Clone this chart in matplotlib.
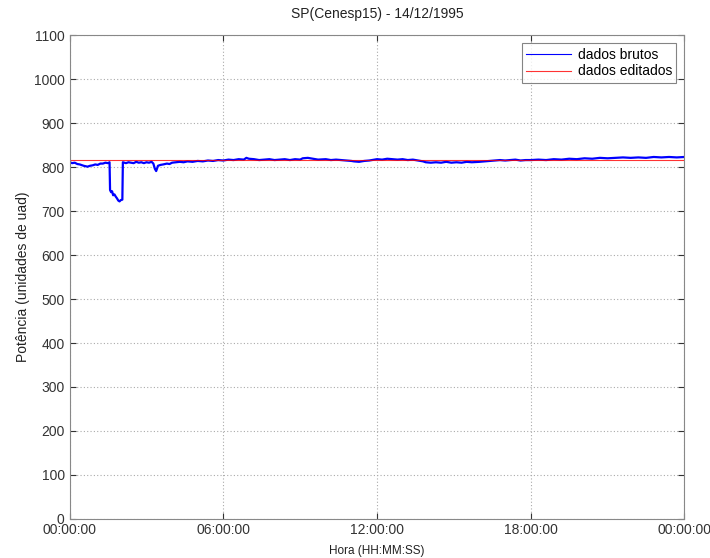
#!/usr/bin/env python

""" Potencia medida em SP(Cenesp15) ao longo do dia 14/12/1995. """

import matplotlib
matplotlib.use("Agg")
import matplotlib.pyplot as plt

# horas do dia e leituras brutas (unidades de uad)
raw_hours = [0.0, 0.1, 0.2, 0.3, 0.4, 0.55, 0.7, 0.8, 0.9, 1.0, 1.1, 1.2, 1.3, 1.4,
             1.5, 1.56, 1.58, 1.62, 1.66, 1.7, 1.75, 1.8, 1.85, 1.9, 1.95, 2.0, 2.06,
             2.08, 2.2, 2.3, 2.4, 2.5, 2.6, 2.7, 2.8, 2.9, 3.0, 3.1, 3.2, 3.27, 3.33,
             3.38, 3.45, 3.55, 3.65, 3.8, 3.9, 4.0, 4.15, 4.3, 4.45, 4.6, 4.8, 5.0,
             5.2, 5.4, 5.6, 5.8, 6.0, 6.2, 6.4, 6.6, 6.8, 6.9, 7.0, 7.2, 7.4, 7.6,
             7.8, 8.0, 8.2, 8.4, 8.6, 8.8, 9.0, 9.1, 9.3, 9.5, 9.7, 10.0, 10.2, 10.4,
             10.6, 10.8, 11.0, 11.1, 11.3, 11.5, 11.7, 12.0, 12.2, 12.4, 12.6, 12.8,
             13.0, 13.2, 13.4, 13.6, 13.8, 13.9, 14.1, 14.3, 14.5, 14.7, 14.9, 15.1,
             15.3, 15.5, 15.7, 16.0, 16.2, 16.4, 16.6, 16.8, 17.0, 17.2, 17.4, 17.6,
             17.8, 18.0, 18.3, 18.6, 18.9, 19.2, 19.5, 19.8, 20.1, 20.4, 20.7, 21.0,
             21.3, 21.6, 21.9, 22.2, 22.5, 22.8, 23.1, 23.4, 23.7, 24.0]
raw_power = [811, 809, 810, 807, 806, 803, 801, 803, 804, 806, 805, 808, 808, 810,
             809, 811, 748, 743, 745, 736, 738, 733, 729, 724, 722, 725, 726,
             811, 809, 811, 810, 809, 812, 810, 811, 809, 811, 810, 812, 808, 796,
             791, 803, 805, 806, 808, 807, 810, 811, 812, 811, 813, 812, 814,
             813, 815, 814, 816, 815, 817, 816, 818, 817, 821, 819, 818, 816, 817,
             818, 816, 817, 818, 816, 818, 817, 820, 821, 819, 817, 818, 816, 817,
             816, 815, 814, 813, 812, 814, 815, 818, 817, 819, 818, 817,
             818, 816, 817, 815, 813, 811, 810, 811, 810, 812, 810, 811,
             810, 812, 811, 812, 813, 814, 815, 816, 815, 816, 817, 815,
             816, 816, 817, 816, 818, 817, 819, 818, 820, 819, 821, 820,
             821, 822, 821, 822, 821, 823, 822, 823, 822, 823]

# serie editada
edit_hours = [0.0, 24.0]
edit_power = [815, 815]

tick_hours = [0, 6, 12, 18, 24]
tick_labels = ["00:00:00", "06:00:00", "12:00:00", "18:00:00", "00:00:00"]

plt.rcParams["font.family"] = ["Liberation Sans", "DejaVu Sans"]

fig = plt.figure(figsize=(7.1, 5.58), dpi=100)
ax = fig.add_axes([0.098, 0.07, 0.866, 0.867])

ax.plot(raw_hours, raw_power, color="#0000ff", linewidth=1.6, label="dados brutos")
ax.plot(edit_hours, edit_power, color="#ff0000", linewidth=0.8, alpha=0.8,
        label="dados editados")

ax.set_xlim(0, 24)
ax.set_ylim(0, 1100)
ax.set_xticks(tick_hours)
ax.set_xticklabels(tick_labels)
ax.set_yticks(range(0, 1101, 100))
ax.tick_params(direction="in", labelsize=10, colors="#333333", length=4,
               top=True, right=True)
ax.tick_params(axis="x", pad=3)
for side in ax.spines.values():
    side.set_color("#888888")
ax.grid(True, linestyle=(0, (1, 2)), color="#aaaaaa", linewidth=0.8)

ax.set_title("SP(Cenesp15) - 14/12/1995", fontsize=10, color="#222222", pad=12)
ax.set_xlabel("Hora (HH:MM:SS)", fontsize=8.5, color="#222222", labelpad=6)
ax.set_ylabel("Potência (unidades de uad)", fontsize=10, color="#222222", labelpad=3)

leg = ax.legend(loc="upper right", fontsize=10, frameon=True, fancybox=False,
                handlelength=3.2, borderpad=0.3, labelspacing=0.2,
                borderaxespad=0.6, handletextpad=0.5)
leg.get_frame().set_edgecolor("#666666")
leg.get_frame().set_linewidth(0.8)
for handle in leg.get_lines():
    handle.set_linewidth(0.8)

fig.savefig("out.png", dpi=100)
